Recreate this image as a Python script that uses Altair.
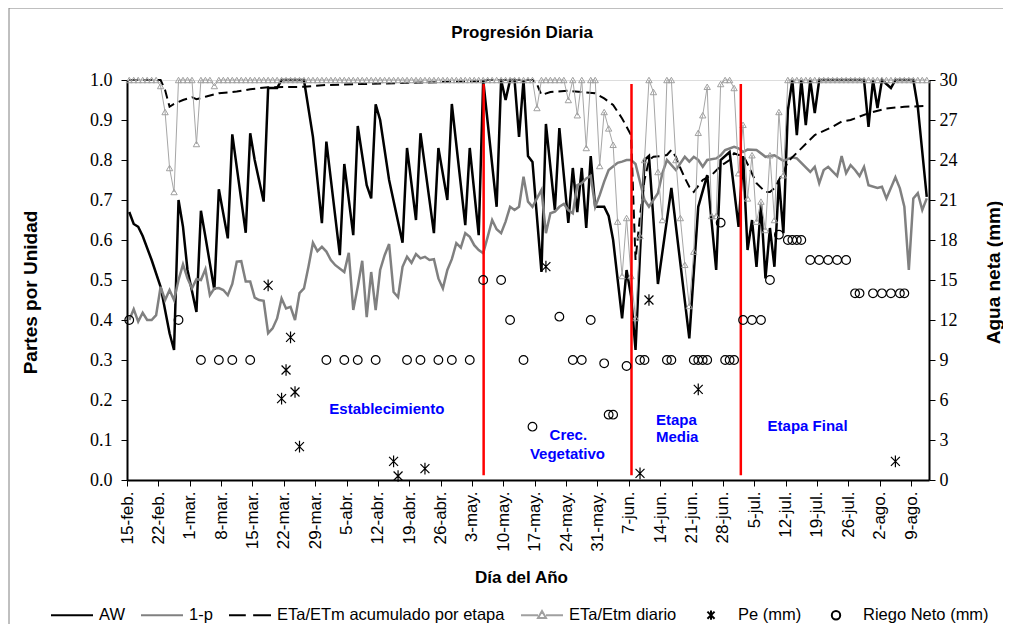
import altair as alt
import pandas as pd

SANS = "Liberation Sans"
SERIF = "Liberation Serif"

# ---------------- data ----------------
TITULO = "Progresión Diaria"
SERIES = ["AW", "1-p", "ETa/ETm acumulado por etapa", "ETa/Etm diario", "Pe (mm)", "Riego Neto (mm)"]

TICK_DAYS = [0, 7, 14, 21, 28, 35, 42, 49, 56, 63, 70, 77, 84, 91, 98, 105, 112, 119,
             126, 133, 140, 147, 154, 161, 168, 175]
TICK_LABELS = ["15-feb.", "22-feb.", "1-mar.", "8-mar.", "15-mar.", "22-mar.", "29-mar.",
               "5-abr.", "12-abr.", "19-abr.", "26-abr.", "3-may.", "10-may.", "17-may.",
               "24-may.", "31-may.", "7-jun.", "14-jun.", "21-jun.", "28-jun.", "5-jul.",
               "12-jul.", "19-jul.", "26-jul.", "2-ago.", "9-ago."]
Y_LEFT_TICKS = [0.0, 0.1, 0.2, 0.3, 0.4, 0.5, 0.6, 0.7, 0.8, 0.9, 1.0]
Y_RIGHT_TICKS = [0, 3, 6, 9, 12, 15, 18, 21, 24, 27, 30]

AW_DIA = [0, 1, 2, 3, 5, 7, 9, 10, 11, 12, 13, 15, 16, 17, 19, 20, 22, 23, 26, 27, 28, 30,
          31, 33, 34, 39, 41, 43, 44, 47, 48, 50, 51, 53, 54, 55, 56, 58, 61, 62, 64, 65,
          68, 69, 71, 72, 75, 76, 78, 79, 82, 83, 84, 85, 86, 87, 88, 89, 90, 92, 93, 95,
          96, 98, 99, 100, 101, 102, 103, 104, 106, 107, 108, 110, 111, 112, 113, 114,
          115, 116, 118, 121, 125, 127, 129, 131, 132, 134, 136, 137, 138, 139, 140, 141,
          142, 143, 144, 145, 146, 147, 148, 149, 150, 151, 152, 153, 154, 164, 165, 166,
          167, 168, 170, 171, 175, 176, 178]
AW_VAL = [0.67, 0.64, 0.633, 0.61, 0.55, 0.483, 0.367, 0.325, 0.70, 0.633, 0.525, 0.42,
          0.673, 0.608, 0.475, 0.727, 0.604, 0.864, 0.618, 0.867, 0.80, 0.696,
          0.98, 0.98, 1.0, 1.0, 0.858, 0.642, 0.846, 0.562, 0.79, 0.612, 0.885, 0.737,
          0.704, 0.939, 0.90, 0.75, 0.593, 0.83, 0.65, 0.867,
          0.617, 0.83, 0.70, 0.94, 0.637, 0.83, 0.612, 1.0, 0.683, 1.0, 0.95, 1.0, 1.0,
          0.858, 1.0, 0.81, 0.795, 0.52, 0.89, 0.675,
          0.88, 0.643, 0.78, 0.67, 0.78, 0.63, 0.81, 0.683, 0.683, 0.66, 0.60, 0.404,
          0.525, 0.46, 0.325, 0.567,
          0.80, 0.81, 0.49, 0.73, 0.354, 0.683, 0.762, 0.525, 0.80, 0.82, 0.633, 0.81,
          0.575, 0.65, 0.533, 0.69,
          0.504, 0.63, 0.533, 0.75, 0.617, 0.925, 1.0, 0.862, 1.0, 0.887, 1.0, 0.917,
          1.0, 1.0, 0.883, 1.0,
          0.93, 1.0, 0.98, 1.0, 1.0, 0.933, 0.708]

P_DIA = [0, 1, 2, 3, 4, 5, 6, 7, 8, 9, 10, 11, 12, 13, 14, 15, 16, 17, 18, 19, 20, 21, 22,
         23, 24, 25, 26, 27, 28, 29, 30, 31, 32, 33, 34, 35, 36, 37, 38, 39, 40, 41, 42, 43,
         44, 45, 46, 48, 49, 50, 51, 52, 53, 54, 55, 56, 57, 58, 59, 60, 61, 62, 63, 64, 65,
         66, 67, 68, 69, 70, 71, 72, 73, 74, 75, 76, 77, 78, 79, 80, 81, 82, 83, 84, 85, 86,
         87, 88, 89, 90, 91, 92, 93, 94, 95, 96, 97, 98, 99, 100, 101, 102, 103, 104, 105,
         106, 107, 109, 110, 111, 112, 113, 115, 116, 118, 119, 120, 122, 124, 125, 126,
         127, 128, 129, 131, 132, 133, 135, 136, 137, 138, 140, 142, 144, 146, 148, 149,
         152, 153, 154, 155, 156, 158, 159, 160, 161, 162, 163, 164, 165, 167, 168, 169,
         171, 172, 173, 174, 175, 176, 177, 178]
P_VAL = [0.40, 0.427, 0.396, 0.418, 0.40, 0.40, 0.412, 0.483, 0.45, 0.475, 0.45, 0.50,
         0.539, 0.504, 0.479, 0.502, 0.50, 0.527, 0.462, 0.479, 0.48, 0.475, 0.462,
         0.49, 0.546, 0.547, 0.496, 0.496, 0.456, 0.45, 0.448, 0.367, 0.379, 0.404, 0.454,
         0.429, 0.433, 0.40, 0.467, 0.479, 0.533, 0.593, 0.572, 0.583,
         0.571, 0.55, 0.537, 0.52, 0.568, 0.425, 0.483, 0.548, 0.407, 0.52, 0.425, 0.525,
         0.562, 0.59, 0.47, 0.457, 0.533, 0.558, 0.543, 0.565, 0.554,
         0.558, 0.55, 0.552, 0.504, 0.479, 0.525, 0.552, 0.592, 0.581, 0.617, 0.608, 0.587,
         0.575, 0.567, 0.608, 0.65, 0.627, 0.617, 0.646, 0.683, 0.675,
         0.683, 0.758, 0.696, 0.683, 0.704, 0.725, 0.617, 0.667, 0.671, 0.683, 0.69, 0.675,
         0.667, 0.737, 0.742, 0.754, 0.76, 0.683, 0.712,
         0.746, 0.775, 0.793, 0.796, 0.80, 0.80, 0.79, 0.70, 0.683, 0.717, 0.767, 0.80,
         0.775, 0.808, 0.796, 0.808,
         0.80, 0.783, 0.80, 0.804, 0.812, 0.825, 0.833, 0.829, 0.82, 0.826, 0.825, 0.808,
         0.812, 0.798, 0.807, 0.804,
         0.77, 0.783, 0.742, 0.775, 0.783, 0.76, 0.81, 0.767, 0.787, 0.775, 0.76, 0.783,
         0.737, 0.73, 0.733, 0.704,
         0.757, 0.729, 0.683, 0.525, 0.704, 0.717, 0.675, 0.704]

ACUM_DIA = [0, 7, 8, 9, 10, 12, 14, 15, 17, 20, 24, 27, 31, 39, 44, 52, 63, 70, 79, 80, 90,
            91, 92, 94, 98, 101, 104, 106, 108, 110, 112, 113, 114, 115, 116, 117, 119, 120,
            121, 122, 123, 124, 125, 126, 128, 130, 132, 134, 135, 136, 137, 138, 140, 142,
            143, 144, 145, 146, 147, 150, 153, 157, 159, 161, 165, 169, 173, 178]
ACUM_VAL = [1.0, 1.0, 0.975, 0.933, 0.94, 0.95, 0.957, 0.952, 0.958, 0.967, 0.971, 0.977,
            0.982, 0.983, 0.9875, 0.99, 0.993, 0.995, 0.997, 1.0, 1.0,
            0.99, 0.9625, 0.97, 0.973, 0.97, 0.967, 0.954, 0.9375, 0.904, 0.8625, 0.55, 0.66,
            0.75, 0.80, 0.808, 0.81, 0.8125,
            0.825, 0.808, 0.78, 0.755, 0.733, 0.72, 0.75, 0.7625, 0.785, 0.80, 0.817, 0.8125,
            0.8125, 0.79, 0.742, 0.72,
            0.72, 0.73, 0.75, 0.77, 0.796, 0.829, 0.8625, 0.883, 0.896, 0.90, 0.917, 0.929,
            0.933, 0.935]

DIARIO_VAL = [
    1.0, 1.0, 1.0, 1.0, 1.0, 1.0, 1.0, 0.985, 0.92, 0.78,
    0.72, 1.0, 1.0, 1.0, 1.0, 0.84, 1.0, 1.0, 1.0, 0.985,
    1.0, 1.0, 1.0, 1.0, 1.0, 1.0, 1.0, 1.0, 1.0, 1.0,
    1.0, 1.0, 1.0, 1.0, 1.0, 1.0, 1.0, 1.0, 1.0, 1.0,
    1.0, 1.0, 1.0, 1.0, 1.0, 1.0, 1.0, 1.0, 1.0, 1.0,
    1.0, 1.0, 1.0, 1.0, 1.0, 1.0, 1.0, 1.0, 1.0, 1.0,
    1.0, 1.0, 1.0, 1.0, 1.0, 1.0, 1.0, 1.0, 1.0, 1.0,
    1.0, 1.0, 1.0, 1.0, 1.0, 1.0, 1.0, 1.0, 1.0, 1.0,
    1.0, 1.0, 1.0, 1.0, 1.0, 1.0, 1.0, 1.0, 1.0, 1.0,
    1.0, 0.93, 1.0, 1.0, 1.0, 1.0, 1.0, 1.0, 0.95, 1.0,
    0.912, 1.0, 0.83, 1.0, 1.0, 0.785, 0.92, 0.879, 0.838, 0.646,
    0.51, 0.655, 0.51, 0.405, 0.61, 0.80, 1.0, 0.97, 0.77, 0.65,
    1.0, 1.0, 0.80, 0.655, 0.538, 0.435, 0.571, 0.868, 0.912, 0.983,
    0.66, 0.66, 0.99, 1.0, 1.0, 0.98, 0.767, 0.888, 0.704, 0.812,
    0.646, 0.696, 0.625, 0.812, 0.65, 0.92, 0.762, 1.0, 1.0, 1.0,
    1.0, 1.0, 1.0, 1.0, 1.0, 1.0, 1.0, 1.0, 1.0, 1.0,
    1.0, 1.0, 1.0, 1.0, 1.0, 1.0, 1.0, 1.0, 1.0, 1.0,
    1.0, 1.0, 1.0, 1.0, 1.0, 1.0, 1.0, 1.0, 1.0,
]
DIARIO_DIA = list(range(len(DIARIO_VAL)))

PE_DIA = [31, 34, 35, 36, 37, 38, 59, 60, 66, 93, 114, 116, 127, 171]
PE_MM = [14.6, 6.1, 8.25, 10.7, 6.6, 2.5, 1.4, 0.3, 0.85, 16.0, 0.5, 13.5, 6.8, 1.4]

RIEGO_DIA = [0, 11, 16, 20, 23, 27, 44, 48, 51, 55, 62, 65, 69, 72, 76, 79, 83, 85, 88, 90,
             96, 99, 101, 103, 106, 107, 108, 111, 114, 115, 120, 121, 126, 127, 128, 129,
             132, 133, 134, 135, 137, 139, 141, 143, 145, 147, 148, 149, 150, 152, 154, 156,
             158, 160, 162, 163, 166, 168, 170, 172, 173]
RIEGO_MM = [12, 12, 9, 9, 9, 9, 9, 9, 9, 9, 9, 9, 9, 9, 9, 15, 15, 12, 9, 4.0,
            12.25, 9, 9, 12, 8.75, 4.9, 4.9, 8.55, 9, 9, 9, 9, 9, 9, 9, 9,
            19.3, 9, 9, 9, 12, 12, 12, 15, 18.4, 18, 18, 18, 18, 16.5, 16.5, 16.5,
            16.5, 16.5, 14, 14, 14, 14, 14, 14, 14]

ETAPA_LIMITES = [79.6, 112.6, 137.0]
ETAPA_TEXTO = ["Establecimiento", "Crec.", "Vegetativo", "Etapa", "Media", "Etapa Final"]
ETAPA_TX = [58.0, 98.5, 98.3, 122.6, 122.8, 151.9]
ETAPA_TY = [0.1775, 0.1125, 0.065, 0.15, 0.1075, 0.135]

# ---------------- frames ----------------
def serie_df(dias, vals, col="valor"):
    df = pd.DataFrame({"dia": dias, col: vals})
    df["xpos"] = df["dia"] + 0.5  # daily values sit in the middle of each day
    return df

df_aw = serie_df(AW_DIA, AW_VAL)
df_p = serie_df(P_DIA, P_VAL)
df_acum = serie_df(ACUM_DIA, ACUM_VAL)
df_diario = serie_df(DIARIO_DIA, DIARIO_VAL)
df_pe = serie_df(PE_DIA, PE_MM, "mm")
df_riego = serie_df(RIEGO_DIA, RIEGO_MM, "mm")
df_lim = pd.DataFrame({"xpos": ETAPA_LIMITES, "valor": [0.012] * 3, "valor2": [0.99] * 3})
df_txt = pd.DataFrame({"texto": ETAPA_TEXTO, "xpos": ETAPA_TX, "valor": ETAPA_TY})
df_leg = pd.DataFrame({"serie": SERIES})
df_tit = pd.DataFrame({"titulo": [TITULO]})

# ---------------- encodings ----------------
label_expr = "[" + ",".join("'" + t + "'" for t in TICK_LABELS) + "][round(datum.value / 7)]"

X_AXIS = alt.Axis(values=TICK_DAYS, labelExpr=label_expr, labelAngle=270, labelAlign="right",
                  labelBaseline="middle", labelFont=SANS, labelFontSize=17, labelColor="black",
                  labelPadding=5, tickSize=6, tickColor="black", tickWidth=1,
                  domainColor="black", domainWidth=2, grid=False,
                  title="Día del Año", titleFont=SANS, titleFontSize=17, titleFontWeight="bold",
                  titleColor="black", titleX=394, titleY=97, titleBaseline="middle",
                  titleAlign="center")
XS = alt.Scale(domain=[0, 179], nice=False, zero=False)

YL_AXIS = alt.Axis(orient="left", values=Y_LEFT_TICKS, format=".1f", labelFont=SERIF,
                   labelFontSize=18, labelColor="black", labelPadding=9, tickSize=6,
                   tickColor="black", tickWidth=1, domainColor="black", domainWidth=2,
                   grid=False, title="Partes por Unidad", titleFont=SANS, titleFontSize=19,
                   titleFontWeight="bold", titleColor="black", titleAngle=270, titleX=-97,
                   titleY=212, titleAlign="center", titleBaseline="middle")
YL = alt.Scale(domain=[0, 1], nice=False, zero=True)

YR_AXIS = alt.Axis(orient="right", values=Y_RIGHT_TICKS, format="d", labelFont=SERIF,
                   labelFontSize=18, labelColor="black", labelPadding=4, tickSize=6,
                   tickColor="black", tickWidth=1, domainColor="black", domainWidth=2,
                   grid=False, title="Agua neta (mm)", titleFont=SANS, titleFontSize=19,
                   titleFontWeight="bold", titleColor="black", titleAngle=270, titleX=64,
                   titleY=192, titleAlign="center", titleBaseline="middle")
YR = alt.Scale(domain=[0, 30], nice=False, zero=True)


def xenc():
    return alt.X("xpos:Q", scale=XS, axis=X_AXIS)


def ylenc(field="valor"):
    return alt.Y(field + ":Q", scale=YL, axis=YL_AXIS)


def yrenc():
    return alt.Y("mm:Q", scale=YR, axis=YR_AXIS)


ASTERISK = "M-1,-1L1,1M-1,1L1,-1M0,-1.3V1.3"
LEG_PATHS = [
    "M-1,0H1",
    "M-1,0H1",
    "M-1,0H-0.2M0.15,0H1",
    "M-1,0H-0.19M0.19,0H1M0,-0.2L0.19,0.13L-0.19,0.13Z",
    "M-0.17,-0.17L0.17,0.17M-0.17,0.17L0.17,-0.17M0,-0.22V0.22",
    "M-0.2,0A0.2,0.2 0 1,0 0.2,0A0.2,0.2 0 1,0 -0.2,0Z",
]
LEG_COLORS = ["black", "#808080", "black", "#A0A0A0", "black", "black"]

LEG = alt.Legend(title=None, orient="none", legendX=-77, legendY=513, direction="horizontal",
                 labelFont=SANS, labelFontSize=16.5, labelColor="black", labelOffset=5,
                 columnPadding=12, symbolSize=1764, symbolStrokeWidth=2, labelLimit=400)

# ---------------- layers ----------------
border = alt.Chart(pd.DataFrame({"k": [0]})).mark_rect(
    fillOpacity=0, stroke="#808080", strokeWidth=1
).encode(x=alt.value(-118), x2=alt.value(900), y=alt.value(-72), y2=alt.value(560))

titulo = alt.Chart(df_tit).mark_text(
    font=SANS, fontSize=17, fontWeight="bold", color="black", align="center",
    baseline="middle"
).encode(x=alt.value(395), y=alt.value(-47), text="titulo:N")

aw = alt.Chart(df_aw).mark_line(color="black", strokeWidth=2.5).encode(x=xenc(), y=ylenc())
p1 = alt.Chart(df_p).mark_line(color="#808080", strokeWidth=2.5).encode(x=xenc(), y=ylenc())
acum = alt.Chart(df_acum).mark_line(color="black", strokeWidth=2, strokeDash=[9, 5]).encode(
    x=xenc(), y=ylenc())
diario_l = alt.Chart(df_diario).mark_line(color="#A6A6A6", strokeWidth=1).encode(
    x=xenc(), y=ylenc())
diario_p = alt.Chart(df_diario).mark_point(
    shape="triangle-up", filled=False, color="#A0A0A0", size=40, strokeWidth=1, opacity=1
).encode(x=xenc(), y=ylenc())
limites = alt.Chart(df_lim).mark_rule(color="#FF0000", strokeWidth=2.5).encode(
    x=xenc(), y=ylenc(), y2="valor2:Q")
textos = alt.Chart(df_txt).mark_text(
    font=SANS, fontSize=15, fontWeight="bold", color="#0000FF", align="center",
    baseline="middle"
).encode(x=xenc(), y=ylenc(), text="texto:N")
leyenda = alt.Chart(df_leg).mark_point(filled=False, opacity=1).encode(
    color=alt.Color("serie:N", scale=alt.Scale(domain=SERIES, range=LEG_COLORS), legend=LEG),
    shape=alt.Shape("serie:N", scale=alt.Scale(domain=SERIES, range=LEG_PATHS), legend=LEG),
).transform_filter("false")

pe = alt.Chart(df_pe).mark_point(
    shape=ASTERISK, filled=False, color="black", size=80, strokeWidth=1.2, opacity=1
).encode(x=xenc(), y=yrenc())
riego = alt.Chart(df_riego).mark_point(
    shape="circle", filled=False, color="black", size=75, strokeWidth=1.2, opacity=1
).encode(x=xenc(), y=yrenc())

left = alt.layer(border, titulo, aw, p1, acum, diario_l, diario_p, limites, textos, leyenda)
right = alt.layer(pe, riego)

chart = alt.layer(left, right).resolve_scale(y="independent").properties(
    width=802,
    height=400,
    padding={"left": 119, "top": 72, "right": 74, "bottom": 144},
    autosize=alt.AutoSizeParams(type="none"),
).configure_view(strokeWidth=0).configure(background="white")

chart.save("out.html", embed_options={"renderer": "svg", "actions": False})
